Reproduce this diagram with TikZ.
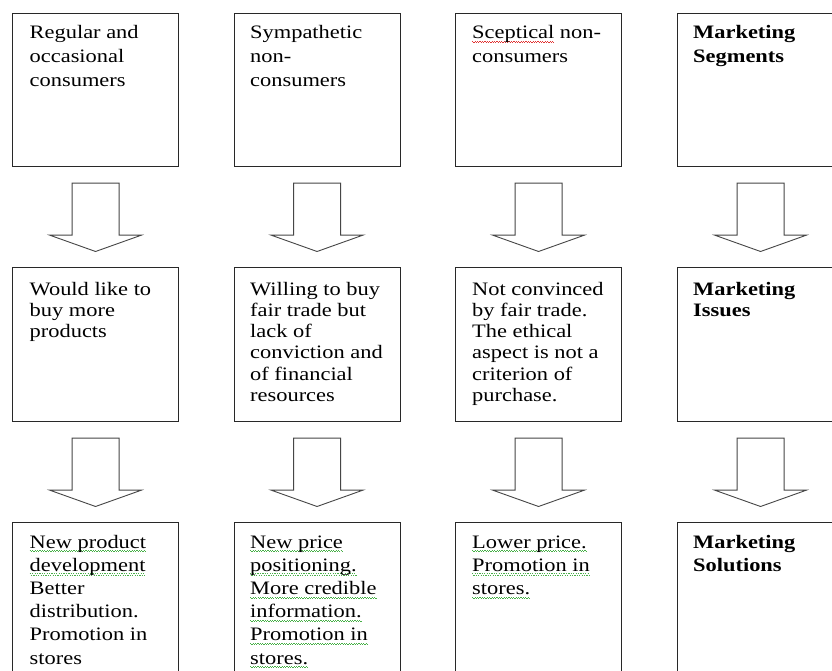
\documentclass[tikz,border=0pt]{standalone}
\usepackage{fontspec}
\setmainfont{Liberation Serif}[FakeStretch=1.18]
\usetikzlibrary{calc}
\definecolor{sqgreen}{RGB}{70,175,70}
\definecolor{sqred}{RGB}{225,50,50}
\definecolor{boxline}{RGB}{40,40,40}
\definecolor{arrline}{RGB}{70,70,70}
\newsavebox\sqbox
\newcommand\wavepiece{\hbox{\rule[-3pt]{1.2pt}{0.8pt}\rule[-4.1pt]{1.2pt}{0.8pt}}}
\newcommand\sqline[2]{\leavevmode\sbox\sqbox{#2}\rlap{\textcolor{#1}{\hbox to \wd\sqbox{\xleaders\wavepiece\hfil}}}\usebox\sqbox}
\newcommand\gw[1]{\sqline{sqgreen}{#1}}
\newcommand\rw[1]{\sqline{sqred}{#1}}
\newcommand\blockarrow[2]{%
  \draw[arrowsty] ($(#1.south)+(-23.5,16)$) -- ++(0,52) -- ++(-22.5,0)
    -- ($(#2.north)+(0,-15.5)$) -- ($(#1.south)+(46,68)$) -- ++(-22.5,0)
    -- ++(0,-52) -- cycle;}
\tikzset{
  box/.style={draw=boxline, line width=1.1pt, minimum width=166pt, inner sep=0pt, anchor=north west},
  toprow/.style={box, minimum height=153pt},
  midrow/.style={box, minimum height=154pt},
  botrow/.style={box, minimum height=175pt},
  arrowsty/.style={draw=arrline, line width=0.9pt, line join=miter, fill=white},
  txt/.style={anchor=base west, inner sep=0pt, align=left},
  ttop/.style={txt, font=\fontsize{19}{24}\selectfont},
  tmid/.style={txt, font=\fontsize{19}{21.3}\selectfont},
  tbot/.style={txt, font=\fontsize{19}{23.2}\selectfont},
}
\newcommand\tb[1]{\parbox[t]{150pt}{#1}}
\begin{document}
\begin{tikzpicture}[x=1pt,y=-1pt]
\clip (0,0) rectangle (832,671);
\fill[white] (0,0) rectangle (832,671);
% boxes
\node[toprow] (a1) at (12,13) {};
\node[toprow] (a2) at (233.5,13) {};
\node[toprow] (a3) at (455,13) {};
\node[toprow] (a4) at (677,13) {};
\node[midrow] (b1) at (12,267) {};
\node[midrow] (b2) at (233.5,267) {};
\node[midrow] (b3) at (455,267) {};
\node[midrow] (b4) at (677,267) {};
\node[botrow] (c1) at (12,522) {};
\node[botrow] (c2) at (233.5,522) {};
\node[botrow] (c3) at (455,522) {};
\node[botrow] (c4) at (677,522) {};
% texts
\node[ttop] (ta1) at ($(a1.north west)+(17.5,26)$) {\tb{Regular and\\occasional\\consumers}};
\node[ttop] (ta2) at ($(a2.north west)+(16.5,26)$) {\tb{Sympathetic\\non-\\consumers}};
\node[ttop] (ta3) at ($(a3.north west)+(17,26)$) {\tb{\rw{Sceptical} non-\\consumers}};
\node[ttop] (ta4) at ($(a4.north west)+(16,26)$) {\tb{\textbf{Marketing}\\\textbf{Segments}}};
\node[tmid] (tb1) at ($(b1.north west)+(17.5,28)$) {\tb{Would like to\\buy more\\products}};
\node[tmid] (tb2) at ($(b2.north west)+(16.5,28)$) {\tb{Willing to buy\\fair trade but\\lack of\\conviction and\\of financial\\resources}};
\node[tmid] (tb3) at ($(b3.north west)+(17,28)$) {\tb{Not convinced\\by fair trade.\\The ethical\\aspect is not a\\criterion of\\purchase.}};
\node[tmid] (tb4) at ($(b4.north west)+(16,28)$) {\tb{\textbf{Marketing}\\\textbf{Issues}}};
\node[tbot] (tc1) at ($(c1.north west)+(17.5,26)$) {\tb{\gw{New product}\\\gw{development}\\Better\\distribution.\\Promotion in\\stores}};
\node[tbot] (tc2) at ($(c2.north west)+(16.5,26)$) {\tb{\gw{New price}\\\gw{positioning.}\\\gw{More credible}\\\gw{information.}\\\gw{Promotion in}\\\gw{stores.}}};
\node[tbot] (tc3) at ($(c3.north west)+(17,26)$) {\tb{\gw{Lower price.}\\\gw{Promotion in}\\\gw{stores.}}};
\node[tbot] (tc4) at ($(c4.north west)+(16,26)$) {\tb{\textbf{Marketing}\\\textbf{Solutions}}};
% block arrows
\blockarrow{a1}{b1}
\blockarrow{a2}{b2}
\blockarrow{a3}{b3}
\blockarrow{a4}{b4}
\blockarrow{b1}{c1}
\blockarrow{b2}{c2}
\blockarrow{b3}{c3}
\blockarrow{b4}{c4}
\end{tikzpicture}
\end{document}
